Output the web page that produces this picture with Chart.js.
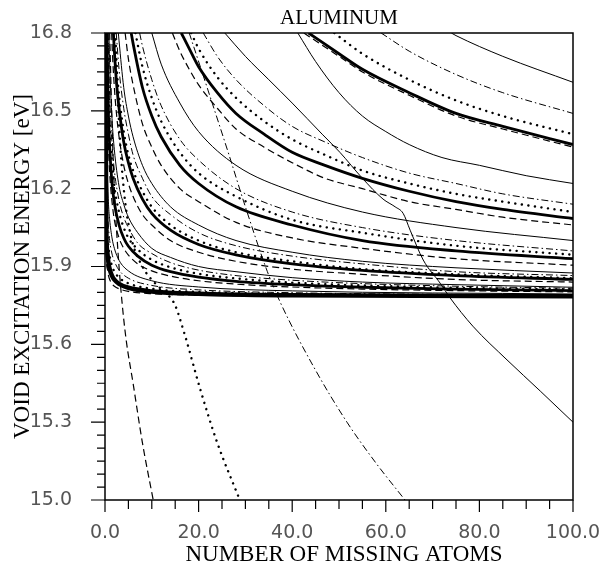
<!DOCTYPE html>
<html>
<head>
<meta charset="utf-8">
<script src="https://cdn.jsdelivr.net/npm/chart.js@4.4.1/dist/chart.umd.min.js"></script>
<style>
  html, body { margin: 0; padding: 0; background: #fff; }
  #wrap { width: 605px; height: 568px; }
</style>
</head>
<body>
<div id="wrap"><canvas id="grafico" width="605" height="568"></canvas></div>
<script>
// textos
const titulo = "ALUMINUM";
const tituloX = "NUMBER OF MISSING ATOMS";
const tituloY = "VOID EXCITATION ENERGY [eV]";

// ejes
const xMin = 0, xMax = 100, xPaso = 5, xPasoEtiqueta = 20;
const yMin = 15.0, yMax = 16.8, yPaso = 0.05, yPasoEtiqueta = 0.3;

// curvas: [atomos, energia]
// grupo A (arriba)
const a1 = [[74,16.8],[75,16.79],[85,16.71],[100,16.61]];
const a2 = [[59,16.8],[65,16.73],[75,16.64],[85,16.57],[100,16.49]];
const a3 = [[49,16.8],[55,16.72],[65,16.62],[75,16.54],[85,16.48],[100,16.41]];
const a4 = [[43.5,16.8],[50,16.72],[55,16.66],[65,16.57],[75,16.49],[85,16.44],[100,16.37]];
const a5 = [[42.5,16.8],[50,16.71],[55,16.65],[65,16.56],[75,16.48],[85,16.43],[100,16.36]];
// grupo B
const b1 = [[41.2,16.8],[45,16.69],[50,16.57],[55,16.48],[60,16.42],[65,16.37],[72,16.32],[80,16.29],[90,16.25],[100,16.22]];
const b2 = [[21,16.8],[24,16.71],[28,16.62],[34,16.52],[40,16.44],[47,16.38],[55,16.32],[65,16.26],[75,16.22],[85,16.18],[100,16.14]];
const b3 = [[18.4,16.8],[20,16.74],[24,16.63],[28,16.55],[34,16.46],[40,16.39],[47,16.33],[55,16.27],[65,16.22],[75,16.18],[85,16.15],[100,16.11]];
const b4 = [[16.3,16.8],[18,16.74],[20,16.67],[24,16.57],[28,16.49],[34,16.41],[40,16.34],[47,16.29],[55,16.24],[65,16.19],[75,16.15],[85,16.12],[100,16.085]];
const b5 = [[14.4,16.8],[16,16.73],[18,16.66],[20,16.6],[24,16.51],[28,16.43],[34,16.36],[40,16.3],[47,16.24],[55,16.2],[65,16.15],[75,16.12],[85,16.09],[100,16.06]];
// grupo C
const c1 = [[10,16.8],[12,16.68],[16,16.53],[20,16.42],[28,16.29],[40,16.19],[55,16.11],[75,16.05],[100,16.0]];
const c2 = [[7.4,16.8],[8,16.75],[10,16.62],[12,16.52],[16,16.39],[20,16.31],[28,16.2],[40,16.11],[55,16.05],[75,16.0],[100,15.96]];
const c3 = [[6.5,16.8],[8,16.67],[10,16.55],[12,16.46],[16,16.34],[20,16.26],[28,16.17],[40,16.08],[55,16.03],[75,15.98],[100,15.945]];
const c4 = [[5.6,16.8],[6,16.76],[8,16.59],[10,16.48],[12,16.4],[16,16.29],[20,16.22],[28,16.13],[40,16.06],[55,16.0],[75,15.96],[100,15.93]];
const c5 = [[4.3,16.8],[5,16.7],[6,16.6],[8,16.45],[10,16.36],[12,16.29],[16,16.2],[20,16.15],[28,16.07],[40,16.01],[55,15.97],[75,15.93],[100,15.905]];
// grupo D
const d1 = [[2.85,16.8],[3,16.77],[4,16.59],[5,16.48],[6,16.4],[8,16.29],[10,16.22],[14,16.13],[20,16.06],[28,16.0],[40,15.955],[55,15.92],[75,15.895],[100,15.875]];
const d2 = [[2.4,16.8],[3,16.66],[4,16.51],[5,16.41],[6,16.33],[8,16.24],[10,16.17],[14,16.1],[20,16.03],[28,15.98],[40,15.94],[55,15.91],[75,15.88],[100,15.865]];
const d3 = [[2.0,16.8],[2.5,16.66],[3,16.56],[4,16.42],[5,16.33],[6,16.27],[8,16.19],[10,16.13],[14,16.06],[20,16.0],[28,15.955],[40,15.92],[55,15.89],[75,15.87],[100,15.855]];
const d4 = [[1.8,16.8],[2,16.73],[2.5,16.6],[3,16.51],[4,16.38],[5,16.3],[6,16.24],[8,16.16],[10,16.105],[14,16.04],[20,15.985],[28,15.945],[40,15.91],[55,15.885],[75,15.865],[100,15.85]];
const d5 = [[1.43,16.8],[1.5,16.76],[2,16.59],[2.5,16.48],[3,16.4],[4,16.29],[5,16.22],[6,16.17],[8,16.1],[10,16.06],[14,16.0],[20,15.955],[28,15.92],[40,15.89],[55,15.87],[75,15.85],[100,15.84]];
// grupo E
const e1 = [[0.83,16.8],[1,16.68],[1.5,16.47],[2,16.35],[3,16.21],[4,16.14],[5,16.09],[7,16.03],[10,15.97],[14,15.935],[20,15.9],[28,15.88],[40,15.857],[55,15.84],[75,15.83],[100,15.82]];
const e2 = [[0.67,16.8],[0.75,16.72],[1,16.56],[1.5,16.375],[2,16.27],[3,16.155],[4,16.09],[5,16.05],[7,15.99],[10,15.95],[14,15.915],[20,15.886],[28,15.865],[40,15.847],[55,15.834],[75,15.824],[100,15.816]];
const e3 = [[0.54,16.8],[0.75,16.6],[1,16.46],[1.5,16.3],[2,16.21],[3,16.11],[4,16.05],[5,16.01],[7,15.966],[10,15.926],[14,15.897],[20,15.872],[28,15.854],[40,15.838],[55,15.827],[75,15.818],[100,15.812]];
const e4 = [[0.43,16.8],[0.5,16.7],[0.75,16.48],[1,16.36],[1.5,16.22],[2,16.145],[3,16.06],[4,16.01],[5,15.978],[7,15.94],[10,15.905],[14,15.88],[20,15.859],[28,15.843],[40,15.83],[55,15.82],[75,15.813],[100,15.807]];
const e5 = [[0.32,16.8],[0.5,16.54],[0.75,16.36],[1,16.26],[1.5,16.15],[2,16.08],[3,16.01],[4,15.97],[5,15.944],[7,15.91],[10,15.883],[14,15.863],[20,15.845],[28,15.832],[40,15.821],[55,15.813],[75,15.807],[100,15.802]];
// grupo F (banda de abajo)
const f1 = [[0.16,16.8],[0.3,16.45],[0.5,16.26],[0.75,16.14],[1,16.08],[1.5,16.01],[2,15.97],[3,15.924],[5,15.883],[10,15.845],[20,15.821],[40,15.806],[100,15.794]];
const f2 = [[0.1,16.8],[0.3,16.27],[0.5,16.13],[0.75,16.05],[1,16.0],[1.5,15.948],[2,15.92],[3,15.886],[5,15.855],[10,15.827],[20,15.81],[40,15.799],[100,15.79]];
const f3 = [[0.06,16.8],[0.3,16.14],[0.5,16.03],[0.75,15.974],[1,15.94],[1.5,15.902],[2,15.881],[3,15.857],[5,15.835],[10,15.814],[20,15.802],[40,15.794],[100,15.787]];
const f4 = [[0.035,16.8],[0.3,16.025],[0.5,15.955],[0.75,15.913],[1,15.89],[1.5,15.864],[2,15.849],[3,15.833],[5,15.818],[10,15.804],[20,15.795],[40,15.789],[100,15.785]];
const f5 = [[0.02,16.8],[0.3,15.936],[0.5,15.891],[0.75,15.865],[1,15.85],[1.5,15.833],[2,15.824],[3,15.814],[5,15.804],[10,15.795],[20,15.79],[40,15.786],[100,15.783]];
// curvas que cruzan la banda
const crucePunteada = [[2.2,16.8],[3,16.45],[4,16.2],[5.5,16.02],[8,15.9],[11,15.83],[13.5,15.79],[15,15.75],[17,15.64],[20.3,15.43],[24,15.22],[28.8,15.0]];
const cruceRayas = [[1.0,16.8],[1.5,16.45],[2,16.2],[2.8,15.95],[3.6,15.77],[4.5,15.62],[6,15.45],[8,15.22],[10.3,15.0]];
const cruceRayaPunto = [[18,16.8],[22,16.58],[26.5,16.33],[30,16.13],[34.7,15.88],[37.5,15.76],[45,15.5],[51.7,15.3],[58,15.14],[64.1,15.0]];
const cruceFina = [[25.6,16.8],[30,16.71],[35,16.62],[40,16.53],[46.4,16.41],[50.2,16.34],[55,16.24],[59.4,16.16],[62,16.13],[63.7,16.105],[65.2,16.04],[68,15.925],[71.6,15.836],[73.7,15.78],[78.6,15.67],[85.9,15.54],[93,15.42],[100,15.3]];

const estilos = {
  fina:     { borderWidth: 1 },
  rayapunto:{ borderWidth: 1, borderDash: [7, 3, 1.5, 3] },
  punteada: { borderWidth: 2.4, borderDash: [0.1, 6.5], borderCapStyle: 'round' },
  gruesa:   { borderWidth: 2.8 },
  banda:    { borderWidth: 4.5 },
  rayas:    { borderWidth: 1.2, borderDash: [7, 4] }
};

const curvas = [
  [a1,'fina'],[a2,'rayapunto'],[a3,'punteada'],[a5,'rayas'],[a4,'gruesa'],
  [b1,'fina'],[b2,'rayapunto'],[b3,'punteada'],[b5,'rayas'],[b4,'gruesa'],
  [c1,'fina'],[c2,'rayapunto'],[c3,'punteada'],[c5,'rayas'],[c4,'gruesa'],
  [d1,'fina'],[d2,'rayapunto'],[d3,'punteada'],[d5,'rayas'],[d4,'gruesa'],
  [e1,'fina'],[e2,'rayapunto'],[e3,'punteada'],[e5,'rayas'],[e4,'gruesa'],
  [f1,'fina'],[f2,'rayapunto'],[f3,'punteada'],[f5,'rayas'],[f4,'banda'],
  [crucePunteada,'punteada'],[cruceRayas,'rayas'],[cruceRayaPunto,'rayapunto'],[cruceFina,'fina']
];

const datasets = curvas.map(([pts, tipo]) => Object.assign({
  data: pts.map(([x, y]) => ({ x, y })),
  borderColor: '#000',
  backgroundColor: '#000',
  pointRadius: 0,
  fill: false,
  cubicInterpolationMode: 'monotone',
  clip: 0
}, estilos[tipo]));

const esMultiplo = (v, base, paso) => {
  const k = (v - base) / paso;
  return Math.abs(k - Math.round(k)) < 1e-6;
};

// sin relleno extra por las etiquetas, asi el area queda fija
const sinRelleno = (s) => {
  s.paddingLeft = 0; s.paddingRight = 0; s.paddingTop = 0; s.paddingBottom = 0;
};

// marco, marcas de eje y textos
const marco = {
  id: 'marco',
  afterDraw(chart) {
    const { ctx, chartArea: a, scales: { x, y } } = chart;
    ctx.save();
    ctx.strokeStyle = '#000';
    ctx.lineWidth = 1.5;
    ctx.strokeRect(a.left, a.top, a.right - a.left, a.bottom - a.top);

    ctx.lineWidth = 1.2;
    ctx.beginPath();
    for (let v = xMin; v <= xMax + 1e-9; v += xPaso) {
      const px = x.getPixelForValue(v);
      const largo = esMultiplo(v, xMin, xPasoEtiqueta) ? 12 : 9;
      ctx.moveTo(px, a.bottom);
      ctx.lineTo(px, a.bottom + largo);
    }
    const n = Math.round((yMax - yMin) / yPaso);
    for (let i = 0; i <= n; i++) {
      const v = yMin + i * yPaso;
      const py = y.getPixelForValue(v);
      const largo = esMultiplo(v, yMin, yPasoEtiqueta) ? 14 : 8;
      ctx.moveTo(a.left, py);
      ctx.lineTo(a.left - largo, py);
    }
    ctx.stroke();

    ctx.fillStyle = '#000';
    ctx.textAlign = 'center';
    ctx.textBaseline = 'alphabetic';
    ctx.font = '21px "Liberation Serif"';
    ctx.fillText(titulo, (a.left + a.right) / 2, 24);
    ctx.font = '23px "Liberation Serif"';
    ctx.fillText(tituloX, (a.left + a.right) / 2 + 5, 561);
    ctx.translate(29, (a.top + a.bottom) / 2);
    ctx.rotate(-Math.PI / 2);
    ctx.fillText(tituloY, 0, 0);
    ctx.restore();
  }
};

const fuenteTicks = { family: '"DejaVu Sans"', size: 19 };

new Chart(document.getElementById('grafico').getContext('2d'), {
  type: 'line',
  data: { datasets },
  options: {
    responsive: false,
    animation: false,
    layout: { padding: { top: 33, right: 32, left: 0, bottom: 0 } },
    plugins: { legend: { display: false }, tooltip: { enabled: false }, title: { display: false } },
    scales: {
      x: {
        type: 'linear',
        min: xMin, max: xMax,
        grid: { display: false },
        border: { display: false },
        afterFit: (s) => { s.height = 68; sinRelleno(s); },
        ticks: {
          stepSize: xPaso,
          autoSkip: false,
          maxRotation: 0,
          padding: 14,
          color: '#555',
          font: fuenteTicks,
          callback: (v) => esMultiplo(v, xMin, xPasoEtiqueta) ? Number(v).toFixed(1) : ''
        }
      },
      y: {
        type: 'linear',
        min: yMin, max: yMax,
        grid: { display: false },
        border: { display: false },
        afterFit: (s) => { s.width = 105; sinRelleno(s); },
        ticks: {
          stepSize: yPaso,
          autoSkip: false,
          padding: 25,
          color: '#555',
          font: fuenteTicks,
          callback: (v) => esMultiplo(v, yMin, yPasoEtiqueta) ? Number(v).toFixed(1) : ''
        }
      }
    }
  },
  plugins: [marco]
});
</script>
</body>
</html>
